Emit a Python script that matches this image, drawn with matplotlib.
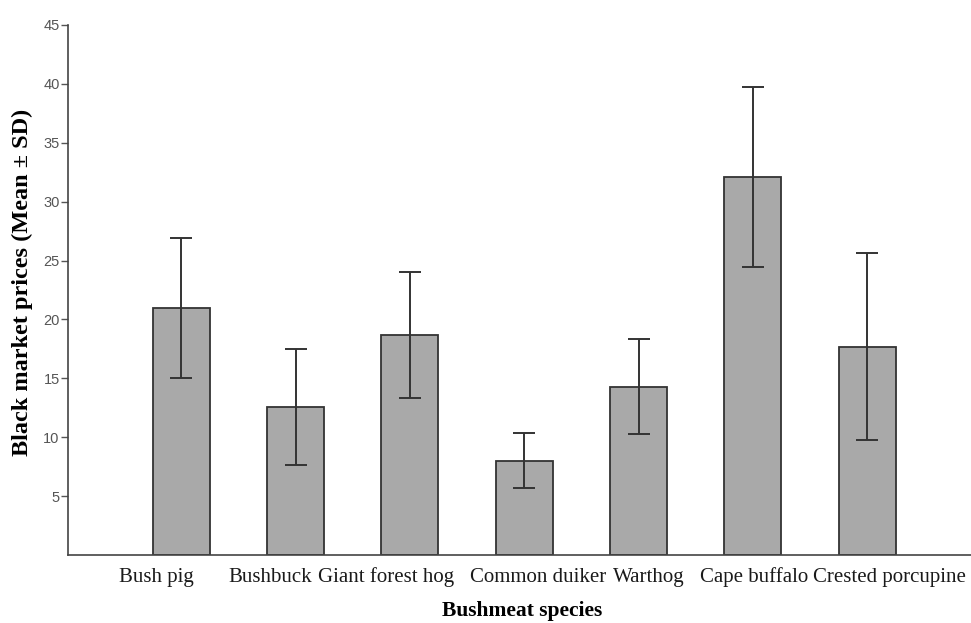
import matplotlib.pyplot as plt
import matplotlib.transforms as mtransforms
import numpy as np

# Bushmeat black market prices (mean and SD)
species = ['Bush pig', 'Bushbuck', 'Giant forest hog', 'Common duiker',
           'Warthog', 'Cape buffalo', 'Crested porcupine']
mean_price = [20.95, 12.6, 18.7, 8.0, 14.3, 32.1, 17.7]
sd_price = [5.95, 4.93, 5.37, 2.34, 4.06, 7.64, 7.92]
y_ticks = [5, 10, 15, 20, 25, 30, 35, 40, 45]

fig = plt.figure(figsize=(9.71, 6.23), dpi=100)
ax = fig.add_axes([0.07, 0.109, 0.935, 0.851])

x = np.arange(len(species))
ax.bar(x, mean_price, width=0.5, color='#a9a9a9', edgecolor='#333333', linewidth=1.3,
       yerr=sd_price, capsize=8,
       error_kw=dict(ecolor='#333333', elinewidth=1.4, capthick=1.4))

ax.set_xlim(-0.99, 6.95)
ax.set_ylim(0, 45)
ax.set_yticks(y_ticks)
ax.set_xticks(x)
ax.set_xticklabels(species, family='Liberation Serif', fontsize=15, color='#1a1a1a')
ax.tick_params(axis='x', length=0, pad=9)
ax.tick_params(axis='y', length=5, width=1, colors='#555555', labelsize=10.5, pad=1)
for lbl in ax.get_yticklabels():
    lbl.set_family('Liberation Sans')

# the labels in the original sit a little off their bars
label_shift = [-25, -25, -24, 14, 10, 1, 22]
for lbl, dx in zip(ax.get_xticklabels(), label_shift):
    lbl.set_transform(lbl.get_transform() +
                      mtransforms.ScaledTranslation(dx / 100, 0, fig.dpi_scale_trans))

for side in ['top', 'right']:
    ax.spines[side].set_visible(False)
for side in ['left', 'bottom']:
    ax.spines[side].set_color('#444444')
    ax.spines[side].set_linewidth(1.2)

ax.set_xlabel('Bushmeat species', family='Liberation Serif', fontweight='bold',
              fontsize=15.5, labelpad=10)
ax.set_ylabel('Black market prices (Mean ± SD)', family='Liberation Serif',
              fontweight='bold', fontsize=17.5)
ax.yaxis.set_label_coords(-0.038, 0.515)

plt.savefig('out.png', dpi=100)
